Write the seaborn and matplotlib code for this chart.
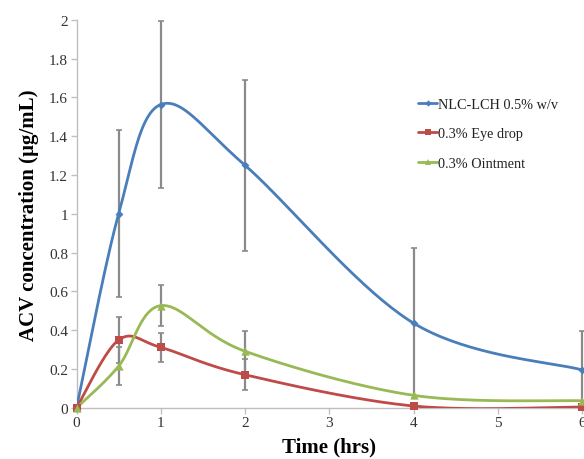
import numpy as np
import pandas as pd
import matplotlib
matplotlib.use("Agg")
import matplotlib.pyplot as plt
from matplotlib.lines import Line2D
from matplotlib.ticker import FuncFormatter
import seaborn as sns

# ---- data ----
time_hrs = [0, 0.5, 1, 2, 4, 6]
nlc_lch = [0.0, 1.00, 1.563, 1.25, 0.437, 0.196]
nlc_lch_err = [0.0, 0.43, 0.43, 0.44, 0.385, 0.20]
eye_drop = [0.0, 0.35, 0.312, 0.171, 0.01, 0.005]
eye_drop_err = [0.0, 0.117, 0.075, 0.08, 0.0, 0.0]
ointment = [0.0, 0.215, 0.527, 0.292, 0.065, 0.037]
ointment_err = [0.0, 0.097, 0.105, 0.105, 0.0, 0.0]
series_names = ["NLC-LCH 0.5% w/v", "0.3% Eye drop", "0.3% Ointment"]
x_ticks = [0, 1, 2, 3, 4, 5, 6]
y_ticks = [0, 0.2, 0.4, 0.6, 0.8, 1.0, 1.2, 1.4, 1.6, 1.8, 2.0]

colors = ["#4A7EBB", "#BE4B48", "#98B954"]
markers = ["D", "s", "^"]
msizes = [4, 6, 6]


def smooth(x, y, n=40):
    """Excel-like smoothed line (Catmull-Rom as cubic Bezier)."""
    pts = np.column_stack([x, y]).astype(float)
    P = np.vstack([pts[0], pts, pts[-1]])
    out = []
    t = np.linspace(0, 1, n)[:, None]
    for i in range(len(pts) - 1):
        p0, p1, p2, p3 = P[i], P[i + 1], P[i + 2], P[i + 3]
        c1 = p1 + (p2 - p0) / 6.0
        c2 = p2 - (p3 - p1) / 6.0
        seg = ((1 - t) ** 3) * p1 + 3 * ((1 - t) ** 2) * t * c1 + 3 * (1 - t) * t ** 2 * c2 + t ** 3 * p2
        out.append(seg if i == 0 else seg[1:])
    arr = np.vstack(out)
    return arr[:, 0], arr[:, 1]


sns.set_theme(style="white")
plt.rcParams["font.family"] = ["Liberation Serif", "DejaVu Serif"]

fig = plt.figure(figsize=(5.84, 4.6), dpi=100)
ax = fig.add_axes([0.131, 0.111, 0.8656, 0.844])

vals = [nlc_lch, eye_drop, ointment]
errs = [nlc_lch_err, eye_drop_err, ointment_err]

# error bars first (behind lines)
for v, e in zip(vals, errs):
    xs = [t for t, ee in zip(time_hrs, e) if ee > 0]
    ys = [vv for vv, ee in zip(v, e) if ee > 0]
    es = [ee for ee in e if ee > 0]
    ax.errorbar(xs, ys, yerr=es, fmt="none", ecolor="#8A8A8A", elinewidth=1.6,
                capsize=2.5, capthick=1.2, zorder=2, clip_on=False)

for name, v, c, m, ms in zip(series_names, vals, colors, markers, msizes):
    sx, sy = smooth(time_hrs, v)
    df_s = pd.DataFrame({"x": sx, "y": sy})
    sns.lineplot(data=df_s, x="x", y="y", ax=ax, color=c, linewidth=2.0,
                 sort=False, estimator=None, zorder=3)
    df_p = pd.DataFrame({"x": time_hrs, "y": v})
    sns.scatterplot(data=df_p, x="x", y="y", ax=ax, color=c, marker=m, s=ms ** 2,
                    edgecolor=c, linewidth=0, zorder=4, clip_on=False)

ax.set_xlim(0, 6)
ax.set_ylim(0, 2)
ax.set_xticks(x_ticks)
ax.set_yticks(y_ticks)
ax.yaxis.set_major_formatter(FuncFormatter(lambda v, p: ("%g" % round(v, 2))))

for s in ["top", "right"]:
    ax.spines[s].set_visible(False)
for s in ["left", "bottom"]:
    ax.spines[s].set_color("#BFBFBF")
    ax.spines[s].set_linewidth(1.0)

ax.tick_params(axis="both", which="major", direction="out", length=4, width=1,
               color="#BFBFBF", labelsize=11, labelcolor="#333333", pad=2,
               left=True, bottom=True)

ax.set_xlabel("Time (hrs)", fontsize=15, fontweight="bold", color="black", labelpad=5)
ax.set_ylabel("ACV concentration (\u00b5g/mL)", fontsize=15, fontweight="bold",
              color="black", labelpad=7)

handles = [Line2D([0], [0], color=c, marker=m, markersize=ms * 0.8, linewidth=2.0,
                  markeredgewidth=0)
           for c, m, ms in zip(colors, markers, msizes)]
leg = ax.legend(handles, series_names, loc="upper left", bbox_to_anchor=(0.664, 0.814),
                frameon=False, fontsize=10.3, handlelength=1.35, handletextpad=0.05,
                labelspacing=1.17, borderaxespad=0)
for t in leg.get_texts():
    t.set_color("#222222")

fig.savefig("out.png", dpi=100)
